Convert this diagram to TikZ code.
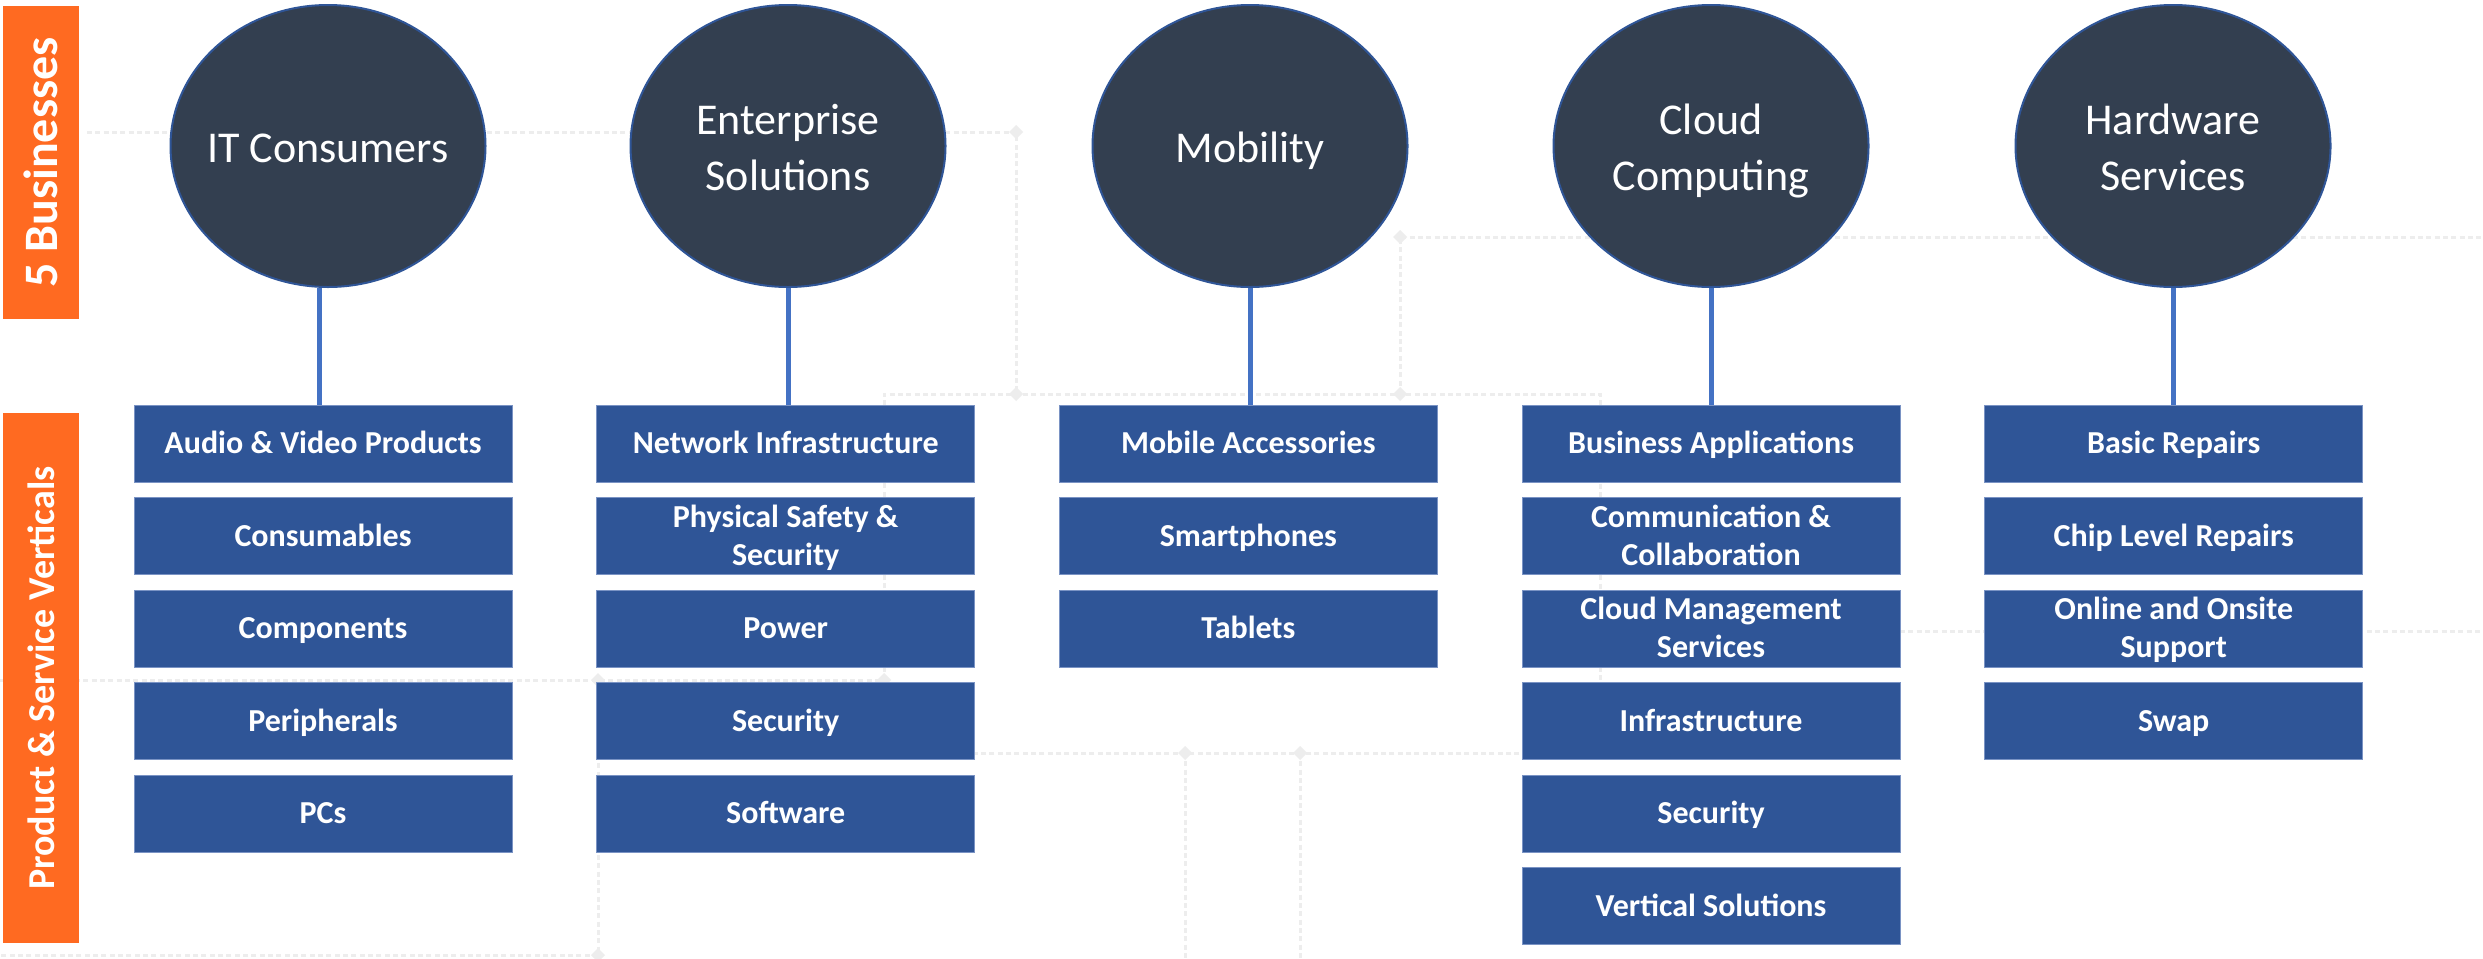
\documentclass[tikz,border=0pt]{standalone}
\usepackage{fontspec}
\setmainfont{Carlito}
\usetikzlibrary{shapes.geometric,calc}
\definecolor{orng}{HTML}{FF6A21}
\definecolor{boxblue}{HTML}{2F5597}
\definecolor{circfill}{HTML}{333F50}
\definecolor{conncol}{HTML}{4472C4}
\definecolor{boxedge}{HTML}{7A93C4}
\definecolor{faint}{HTML}{EDEDED}
\newcommand\bgdiamond[1]{\fill[faint] (#1) +(-7,0) -- +(0,-7) -- +(7,0) -- +(0,7) -- cycle;}
\begin{document}
\begin{tikzpicture}[x=0.3pt,y=-0.3pt,
  vbox/.style={rectangle, fill=boxblue, draw=boxedge, line width=0.3pt,
    minimum width=113.4pt, minimum height=23.1pt, inner sep=0pt, text=white,
    font=\bfseries\fontsize{9.6}{11.4}\selectfont, align=center,
    text height=7.68pt, text depth=1.5pt},
  vboxtwo/.style={vbox, text height=19.08pt},
  biz/.style={ellipse, fill=circfill, draw=boxblue, line width=0.6pt,
    minimum width=94.5pt, minimum height=84.6pt, inner sep=0pt},
  biztext/.style={inner sep=0pt, text=white, align=center,
    font=\fontsize{13.2}{16.8}\selectfont, text height=11pt, text depth=1.3pt},
  biztexttwo/.style={biztext, text height=27.8pt},
  conn/.style={draw=conncol, line width=1.5pt},
  sidebar/.style={fill=orng, text=white, inner sep=0pt, rotate=90},
  bgline/.style={draw=faint, line width=0.9pt, dash pattern=on 1.5pt off 1pt}]
\useasboundingbox (0,0) rectangle (2483,958);
\fill[white] (0,0) rectangle (2483,958);

% faint background tracks
\draw[bgline] (87,132) -- (1016,132) -- (1016,394);
\draw[bgline] (884,680) -- (884,394) -- (1600,394) -- (1600,753) -- (900,753);
\draw[bgline] (1185,753) -- (1185,958);
\draw[bgline] (1300,753) -- (1300,958);
\draw[bgline] (1400,394) -- (1400,237) -- (2483,237);
\draw[bgline] (1600,631) -- (2483,631);
\draw[bgline] (0,680) -- (884,680);
\draw[bgline] (598,680) -- (598,955) -- (0,955);
\bgdiamond{1016,132}
\bgdiamond{1016,394}
\bgdiamond{1400,394}
\bgdiamond{1400,237}
\bgdiamond{884,680}
\bgdiamond{598,680}
\bgdiamond{598,955}
\bgdiamond{1185,753}
\bgdiamond{1300,753}

% side bars
\node[sidebar, minimum width=93.9pt, minimum height=22.8pt,
  font=\bfseries\fontsize{14.4}{17}\selectfont] (bar1) at (41,162.5) {5 Businesses};
\node[sidebar, minimum width=159pt, minimum height=22.8pt,
  font=\bfseries\fontsize{11.4}{14}\selectfont] (bar2) at (41,678) {Product \& Service Verticals};

% businesses
\node[biz] (c1) at (328,146) {};
\node[biz] (c2) at (788,146) {};
\node[biz] (c3) at (1250,146) {};
\node[biz] (c4) at (1711,146) {};
\node[biz] (c5) at (2173,146) {};
\node[biztext] (t1) at (c1) {IT Consumers};
\node[biztexttwo] (t2) at (c2) {Enterprise\\Solutions};
\node[biztext] (t3) at (c3) {Mobility};
\node[biztexttwo] (t4) at (c4) {Cloud\\Computing};
\node[biztexttwo] (t5) at (c5) {Hardware\\Services};

% column 1
\node[vbox] (b1-1) at (323,443.5) {Audio \& Video Products};
\node[vbox] (b1-2) at (323,536) {Consumables};
\node[vbox] (b1-3) at (323,628.5) {Components};
\node[vbox] (b1-4) at (323,721) {Peripherals};
\node[vbox] (b1-5) at (323,813.5) {PCs};
% column 2
\node[vbox] (b2-1) at (785.7,443.5) {Network Infrastructure};
\node[vboxtwo] (b2-2) at (785.7,536) {Physical Safety \&\\Security};
\node[vbox] (b2-3) at (785.7,628.5) {Power};
\node[vbox] (b2-4) at (785.7,721) {Security};
\node[vbox] (b2-5) at (785.7,813.5) {Software};
% column 3
\node[vbox] (b3-1) at (1248.3,443.5) {Mobile Accessories};
\node[vbox] (b3-2) at (1248.3,536) {Smartphones};
\node[vbox] (b3-3) at (1248.3,628.5) {Tablets};
% column 4
\node[vbox] (b4-1) at (1711,443.5) {Business Applications};
\node[vboxtwo] (b4-2) at (1711,536) {Communication \&\\Collaboration};
\node[vboxtwo] (b4-3) at (1711,628.5) {Cloud Management\\Services};
\node[vbox] (b4-4) at (1711,721) {Infrastructure};
\node[vbox] (b4-5) at (1711,813.5) {Security};
\node[vbox] (b4-6) at (1711,906) {Vertical Solutions};
% column 5
\node[vbox] (b5-1) at (2173.7,443.5) {Basic Repairs};
\node[vbox] (b5-2) at (2173.7,536) {Chip Level Repairs};
\node[vboxtwo] (b5-3) at (2173.7,628.5) {Online and Onsite\\Support};
\node[vbox] (b5-4) at (2173.7,721) {Swap};

% connectors
\draw[conn] ([xshift=-2.7pt]c1.south) -- ([xshift=-2.7pt]c1.south |- b1-1.north);
\draw[conn] (c2.south) -- (c2.south |- b2-1.north);
\draw[conn] (c3.south) -- (c3.south |- b3-1.north);
\draw[conn] (c4.south) -- (c4.south |- b4-1.north);
\draw[conn] (c5.south) -- (c5.south |- b5-1.north);
\end{tikzpicture}
\end{document}
